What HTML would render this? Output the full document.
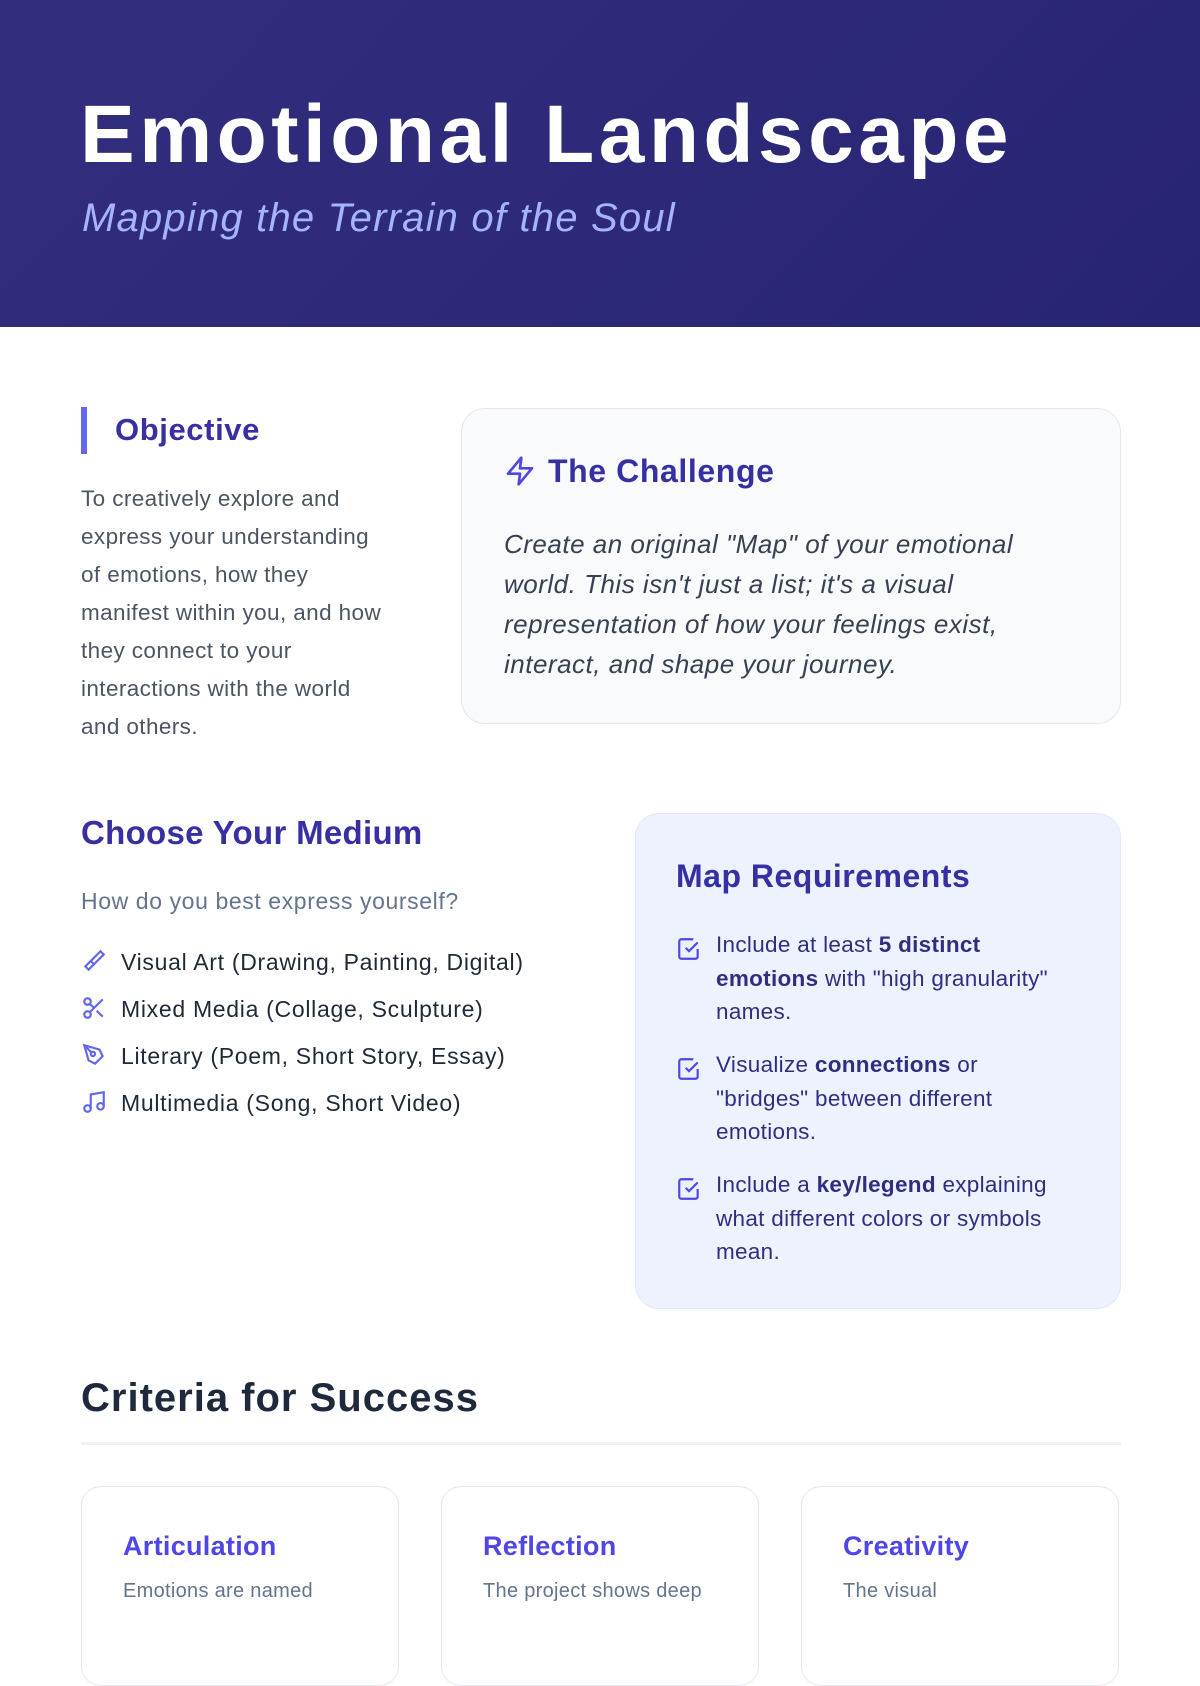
<!DOCTYPE html>
<html><head><meta charset="utf-8"><style>
*{margin:0;padding:0;box-sizing:border-box}
body{width:1200px;height:1600px;overflow:hidden;background:#fff;font-family:"Liberation Sans",sans-serif;position:relative}
.a{position:absolute}
header{position:absolute;left:0;top:0;width:1200px;height:327px;background:linear-gradient(135deg,#332d7d,#282474)}
h1{position:absolute;left:80px;top:88px;font-size:82px;font-weight:900;color:#fff;letter-spacing:4.5px;white-space:nowrap}
.sub{left:82px;top:196px;font-size:40px;font-style:italic;color:#a5b4fc;letter-spacing:1.2px;white-space:nowrap}
.obj{left:81px;top:407px;border-left:6px solid #6366f1;height:47px;padding-left:28px;font-size:31px;font-weight:bold;color:#3730a3;line-height:46px;letter-spacing:0.6px}
.objp{left:81px;top:480px;width:360px;font-size:22.5px;line-height:38px;color:#4b5563;letter-spacing:0.4px;white-space:nowrap}
.ch{left:461px;top:408px;width:660px;height:316px;background:#f8fafc;border:1.5px solid #e2e8f0;border-radius:24px}
.cht{left:42px;top:44px;font-size:32px;font-weight:bold;color:#3730a3;white-space:nowrap;letter-spacing:0.6px}
.chp{left:42px;top:115px;font-size:26px;font-style:italic;line-height:40px;color:#374151;white-space:nowrap;letter-spacing:0.5px}
.med{left:81px;top:814px;font-size:33px;font-weight:bold;color:#3730a3;letter-spacing:0.3px}
.medp{left:81px;top:888px;font-size:23px;color:#64748b;letter-spacing:0.6px}
.li{left:81px;font-size:23px;color:#1f2937;white-space:nowrap;letter-spacing:0.7px}
.li svg{vertical-align:-4px;margin-right:14px}
.mr{left:635px;top:813px;width:486px;height:496px;background:#eef2ff;border:1.5px solid #e0e7ff;border-radius:24px}
.mrt{left:40px;top:44px;font-size:32px;font-weight:bold;color:#3730a3;letter-spacing:0.5px}
.it{left:40px;width:440px;font-size:22.5px;line-height:33.5px;color:#312e81;white-space:nowrap;letter-spacing:0.3px}
.it svg{position:absolute;left:0;top:8px}
.it div{margin-left:40px}
.cr{left:81px;top:1376px;font-size:40px;font-weight:bold;color:#1e293b;letter-spacing:1px}
.line{left:81px;top:1442px;width:1040px;height:3px;background:#eef2f7}
.card{top:1486px;width:318px;height:200px;border:1.5px solid #e2e8f0;border-radius:20px;background:#fff}
.card b{position:absolute;left:41px;top:44px;font-size:27px;color:#4f46e5;letter-spacing:0.3px}
.card span{position:absolute;left:41px;top:93px;font-size:20px;color:#64748b;letter-spacing:0.3px}
</style></head><body>
<header></header>
<h1>Emotional Landscape</h1>
<div class="a sub">Mapping the Terrain of the Soul</div>
<div class="a obj">Objective</div>
<div class="a objp">To creatively explore and<br>express your understanding<br>of emotions, how they<br>manifest within you, and how<br>they connect to your<br>interactions with the world<br>and others.</div>
<div class="a ch">
<div class="a cht"><svg width="32" height="32" viewBox="0 0 24 24" fill="none" stroke="#4f46e5" stroke-width="2" stroke-linejoin="round" style="vertical-align:-5px;margin-right:12px"><path d="M13 2 3 14h9l-1 8 10-12h-9l1-8z"/></svg>The Challenge</div>
<div class="a chp">Create an original "Map" of your emotional<br>world. This isn't just a list; it's a visual<br>representation of how your feelings exist,<br>interact, and shape your journey.</div>
</div>
<div class="a med">Choose Your Medium</div>
<div class="a medp">How do you best express yourself?</div>
<div class="a li" style="top:948px"><svg width="26" height="26" viewBox="0 0 24 24" fill="none" stroke="#6366f1" stroke-width="2"><path d="M18 3l3 3-9 9-3-3z"/><path d="M9 12l-5 5 3 3 5-5M4 17l3 3"/></svg>Visual Art (Drawing, Painting, Digital)</div>
<div class="a li" style="top:995px"><svg width="26" height="26" viewBox="0 0 24 24" fill="none" stroke="#6366f1" stroke-width="2"><circle cx="6" cy="6" r="3"/><circle cx="6" cy="18" r="3"/><path d="M20 4 8.1 15.9M14.5 14.5 20 20M8.1 8.1 12 12"/></svg>Mixed Media (Collage, Sculpture)</div>
<div class="a li" style="top:1042px"><svg width="26" height="26" viewBox="0 0 24 24" fill="none" stroke="#6366f1" stroke-width="2"><path d="M3 3l14 4 3 6-7 7-6-3z"/><path d="M3 3l7 7"/><circle cx="11" cy="11" r="2"/></svg>Literary (Poem, Short Story, Essay)</div>
<div class="a li" style="top:1089px"><svg width="26" height="26" viewBox="0 0 24 24" fill="none" stroke="#6366f1" stroke-width="2"><path d="M9 18V5l12-2v13"/><circle cx="6" cy="18" r="3"/><circle cx="18" cy="16" r="3"/></svg>Multimedia (Song, Short Video)</div>
<div class="a mr">
<div class="a mrt">Map Requirements</div>
<div class="a it" style="top:114px"><svg width="26" height="26" viewBox="0 0 24 24" fill="none" stroke="#4f46e5" stroke-width="2"><path d="M9 11l3 3 8-8"/><path d="M20 12v7a2 2 0 0 1-2 2H5a2 2 0 0 1-2-2V5a2 2 0 0 1 2-2h11"/></svg><div>Include at least <b>5 distinct</b><br><b>emotions</b> with "high granularity"<br>names.</div></div>
<div class="a it" style="top:234px"><svg width="26" height="26" viewBox="0 0 24 24" fill="none" stroke="#4f46e5" stroke-width="2"><path d="M9 11l3 3 8-8"/><path d="M20 12v7a2 2 0 0 1-2 2H5a2 2 0 0 1-2-2V5a2 2 0 0 1 2-2h11"/></svg><div>Visualize <b>connections</b> or<br>"bridges" between different<br>emotions.</div></div>
<div class="a it" style="top:354px"><svg width="26" height="26" viewBox="0 0 24 24" fill="none" stroke="#4f46e5" stroke-width="2"><path d="M9 11l3 3 8-8"/><path d="M20 12v7a2 2 0 0 1-2 2H5a2 2 0 0 1-2-2V5a2 2 0 0 1 2-2h11"/></svg><div>Include a <b>key/legend</b> explaining<br>what different colors or symbols<br>mean.</div></div>
</div>
<div class="a cr">Criteria for Success</div>
<div class="a line"></div>
<div class="a card" style="left:81px"><b>Articulation</b><span>Emotions are named</span></div>
<div class="a card" style="left:441px"><b>Reflection</b><span>The project shows deep</span></div>
<div class="a card" style="left:801px"><b>Creativity</b><span>The visual</span></div>
</body></html>
